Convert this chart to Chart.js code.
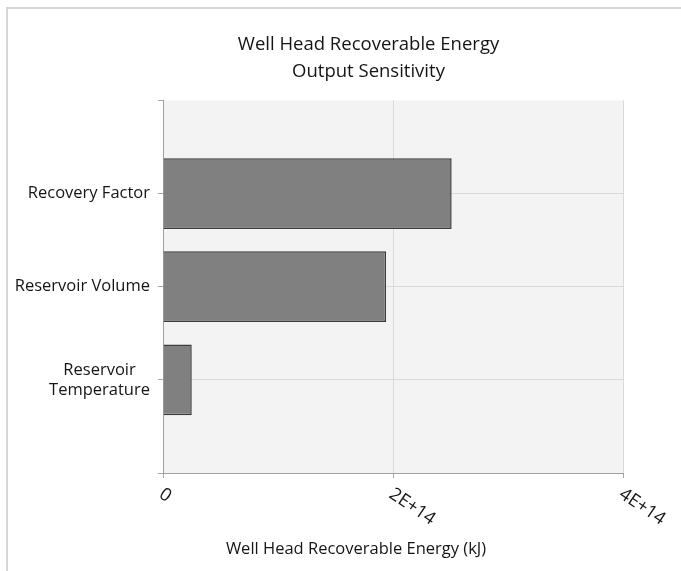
<!DOCTYPE html>
<html>
<head>
<meta charset="utf-8">
<script src="https://cdn.jsdelivr.net/npm/chart.js@4/dist/chart.umd.min.js"></script>
<style>
  html, body { margin: 0; padding: 0; background: #fff; overflow: hidden; }
  #clip { position: absolute; left: 0; top: 0; width: 681px; height: 571px; overflow: hidden; }
  #wrap { position: absolute; left: 0; top: 0; width: 737px; height: 571px; }
  #frame { position: absolute; left: 6px; top: 7px; width: 700px; height: 600px;
           border-left: 2px solid #d6d6d6; border-top: 2px solid #d6d6d6; pointer-events: none; }
</style>
</head>
<body>
<div id="clip">
  <div id="wrap"><canvas id="sensChart"></canvas></div>
  <div id="frame"></div>
</div>
<script>
// chart data
const categories = ['Recovery Factor', 'Reservoir Volume', ['Reservoir', 'Temperature']];
const energyValues = [2.51e14, 1.94e14, 2.5e13];
const xTickLabels = ['0', '2E+14', '4E+14'];
const xMin = 0, xMax = 4e14, xStep = 2e14;
const chartTitle = ['Well Head Recoverable Energy', 'Output Sensitivity'];
const xAxisTitle = 'Well Head Recoverable Energy (kJ)';

const FONT = "'Open Sans', sans-serif";
const TEXT = '#151515';

// empty slots above and below the three bars (axis has 4 intervals)
const yLabels = [''].concat(categories, ['']);
const yData = [null].concat(energyValues, [null]);

const plotBg = {
    id: 'plotBg',
    beforeDraw(chart) {
        const a = chart.chartArea, ctx = chart.ctx;
        ctx.save();
        ctx.fillStyle = '#f3f3f3';
        ctx.fillRect(a.left, a.top, a.right - a.left, a.bottom - a.top);
        ctx.restore();
    }
};

const axisText = {
    id: 'axisText',
    afterDraw(chart) {
        const ctx = chart.ctx, x = chart.scales.x, y = chart.scales.y;
        ctx.save();
        ctx.fillStyle = TEXT;

        // slanted x tick labels, reading downwards
        ctx.font = "18px " + FONT;
        ctx.textAlign = 'left';
        ctx.textBaseline = 'top';
        x.ticks.forEach((t, i) => {
            const px = x.getPixelForValue(t.value);
            ctx.save();
            ctx.translate(px + 3, y.bottom + 12);
            ctx.rotate(34 * Math.PI / 180);
            ctx.fillText(xTickLabels[i] || t.label, 0, 0);
            ctx.restore();
        });

        // category labels, multi-line ones centred on themselves
        ctx.font = "16.5px " + FONT;
        ctx.textAlign = 'center';
        ctx.textBaseline = 'middle';
        y.ticks.forEach((t, i) => {
            const lab = yLabels[i];
            if (!lab || lab.length === 0) return;
            const lines = Array.isArray(lab) ? lab : [lab];
            const w = Math.max(...lines.map(s => ctx.measureText(s).width));
            const cx = y.right - 13 - w / 2;
            const py = y.getPixelForValue(i);
            const lh = 20;
            lines.forEach((s, k) => {
                ctx.fillText(s, cx, py + (k - (lines.length - 1) / 2) * lh);
            });
        });

        // x axis title
        ctx.textAlign = 'center';
        ctx.fillText(xAxisTitle, 356, 549);
        ctx.restore();
    }
};

const ctx = document.getElementById('sensChart').getContext('2d');
const chart = new Chart(ctx, {
    type: 'bar',
    data: {
        labels: yLabels,
        datasets: [{
            label: 'Well Head Recoverable Energy',
            data: yData,
            backgroundColor: '#808080',
            borderColor: '#3c3c3c',
            borderWidth: 1.5,
            categoryPercentage: 1,
            barPercentage: 0.76
        }]
    },
    options: {
        indexAxis: 'y',
        responsive: true,
        maintainAspectRatio: false,
        animation: false,
        layout: { padding: 0 },
        plugins: {
            legend: { display: false },
            tooltip: { enabled: false },
            title: {
                display: true,
                text: chartTitle,
                color: TEXT,
                font: { family: FONT, size: 18.5, weight: 'normal', lineHeight: 1.47 },
                padding: { top: 31, bottom: 15 }
            }
        },
        scales: {
            x: {
                type: 'linear',
                position: 'bottom',
                min: xMin,
                max: xMax,
                ticks: { display: false, stepSize: xStep },
                grid: { color: '#d9d9d9', tickColor: '#a6a6a6', tickLength: 5 },
                border: { color: '#a0a0a0' },
                afterFit(scale) { scale.height = 98; }
            },
            y: {
                type: 'category',
                offset: false,
                ticks: { display: false },
                grid: {
                    offset: false,
                    color: c => (c.index === 0 || c.index === yLabels.length - 1) ? 'rgba(0,0,0,0)' : '#d9d9d9',
                    tickColor: '#a6a6a6',
                    tickLength: 5
                },
                border: { color: '#a0a0a0' },
                afterFit(scale) { scale.width = 163; }
            },
            // empty right-hand strip so the plot ends where the reference does
            yRight: {
                type: 'linear',
                position: 'right',
                display: true,
                ticks: { display: false },
                grid: { display: false, drawTicks: false },
                border: { display: false },
                afterFit(scale) { scale.width = 114; }
            }
        }
    },
    plugins: [plotBg, axisText]
});
</script>
</body>
</html>
